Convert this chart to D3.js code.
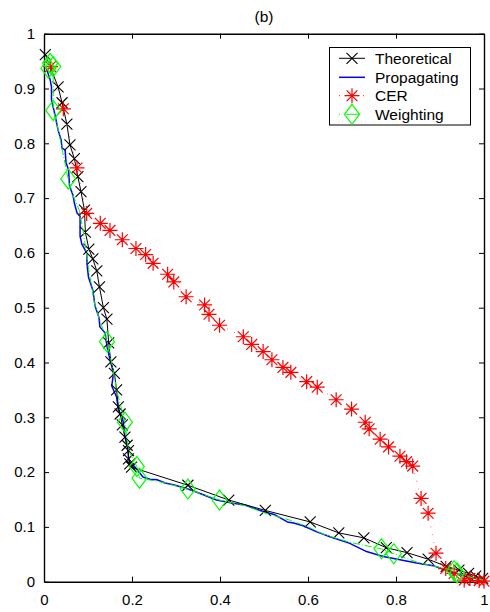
<!DOCTYPE html>
<html>
<head>
<meta charset="utf-8">
<script src="https://cdn.jsdelivr.net/npm/d3@7"></script>
<style>
  body { margin: 0; background: #fff; }
  svg { display: block; }
  text { font-family: "Liberation Sans", Arial, Helvetica, sans-serif; fill: #000; }
</style>
</head>
<body>
<svg id="chart" width="490" height="612"></svg>
<script>
// Axis ticks
const xTicks = [0, 0.2, 0.4, 0.6, 0.8, 1];
const yTicks = [0, 0.1, 0.2, 0.3, 0.4, 0.5, 0.6, 0.7, 0.8, 0.9, 1];
const seriesNames = ["Theoretical", "Propagating", "CER", "Weighting"];

// Theoretical curve
const theoX = [0.003, 0.032, 0.041, 0.052, 0.059, 0.069, 0.077, 0.084, 0.092, 0.094, 0.102, 0.111, 0.120, 0.126, 0.135, 0.143, 0.147, 0.152, 0.160, 0.165, 0.169, 0.173, 0.178, 0.184, 0.189, 0.192, 0.192, 0.195, 0.199, 0.327, 0.420, 0.503, 0.605, 0.670, 0.727, 0.778, 0.825, 0.873, 0.914, 0.943, 0.965, 0.981, 0.997];
const theoY = [0.962, 0.903, 0.874, 0.835, 0.797, 0.772, 0.739, 0.712, 0.678, 0.638, 0.607, 0.589, 0.567, 0.538, 0.500, 0.479, 0.436, 0.401, 0.380, 0.350, 0.319, 0.306, 0.286, 0.264, 0.249, 0.239, 0.224, 0.215, 0.209, 0.176, 0.149, 0.130, 0.109, 0.089, 0.080, 0.062, 0.053, 0.041, 0.028, 0.021, 0.015, 0.010, 0.006];

// Propagating estimate
const propX = [0.005, 0.014, 0.017, 0.017, 0.025, 0.032, 0.039, 0.041, 0.048, 0.050, 0.056, 0.058, 0.066, 0.069, 0.075, 0.082, 0.082, 0.086, 0.097, 0.098, 0.101, 0.111, 0.116, 0.125, 0.127, 0.139, 0.143, 0.150, 0.158, 0.154, 0.165, 0.169, 0.177, 0.180, 0.184, 0.189, 0.192, 0.195, 0.207, 0.225, 0.241, 0.257, 0.275, 0.294, 0.324, 0.355, 0.392, 0.430, 0.457, 0.498, 0.525, 0.553, 0.567, 0.589, 0.620, 0.650, 0.695, 0.733, 0.771, 0.809, 0.847, 0.885, 0.915, 0.938, 0.959, 0.982, 0.995];
const propY = [0.938, 0.916, 0.903, 0.879, 0.852, 0.824, 0.806, 0.791, 0.788, 0.765, 0.751, 0.722, 0.705, 0.691, 0.673, 0.667, 0.631, 0.616, 0.600, 0.578, 0.556, 0.532, 0.503, 0.482, 0.465, 0.454, 0.430, 0.405, 0.381, 0.357, 0.337, 0.314, 0.301, 0.292, 0.264, 0.249, 0.228, 0.218, 0.209, 0.191, 0.187, 0.186, 0.180, 0.177, 0.170, 0.161, 0.149, 0.143, 0.140, 0.128, 0.122, 0.109, 0.107, 0.102, 0.091, 0.082, 0.070, 0.055, 0.046, 0.040, 0.034, 0.029, 0.021, 0.015, 0.010, 0.006, 0.003];

// CER estimate
const cerX = [0.015, 0.044, 0.075, 0.097, 0.128, 0.150, 0.178, 0.209, 0.231, 0.248, 0.281, 0.295, 0.323, 0.365, 0.375, 0.399, 0.453, 0.472, 0.498, 0.518, 0.543, 0.561, 0.597, 0.621, 0.664, 0.699, 0.730, 0.739, 0.764, 0.783, 0.809, 0.824, 0.838, 0.857, 0.873, 0.891, 0.913, 0.932, 0.955, 0.968, 0.989, 1.000];
const cerY = [0.940, 0.863, 0.755, 0.672, 0.654, 0.641, 0.624, 0.608, 0.597, 0.581, 0.561, 0.547, 0.520, 0.505, 0.488, 0.468, 0.447, 0.433, 0.420, 0.405, 0.391, 0.382, 0.365, 0.355, 0.332, 0.315, 0.291, 0.279, 0.260, 0.246, 0.229, 0.219, 0.211, 0.152, 0.125, 0.052, 0.024, 0.015, 0.003, 0.006, 0.002, 0.001];

// Weighting estimate: curve and marked samples
const wLineX = [0.009, 0.014, 0.010, 0.021, 0.021, 0.032, 0.041, 0.055, 0.066, 0.080, 0.089, 0.101, 0.116, 0.130, 0.143, 0.155, 0.165, 0.184, 0.192, 0.211, 0.217, 0.265, 0.327, 0.399, 0.460, 0.503, 0.560, 0.600, 0.640, 0.700, 0.767, 0.795, 0.850, 0.900, 0.932, 0.939, 0.970, 0.998];
const wLineY = [0.950, 0.946, 0.937, 0.940, 0.860, 0.826, 0.790, 0.735, 0.705, 0.678, 0.640, 0.573, 0.503, 0.470, 0.438, 0.395, 0.350, 0.291, 0.240, 0.210, 0.189, 0.182, 0.169, 0.149, 0.138, 0.125, 0.112, 0.100, 0.085, 0.071, 0.060, 0.051, 0.035, 0.026, 0.020, 0.016, 0.008, 0.003];
const wMarkX = [0.010, 0.014, 0.021, 0.021, 0.055, 0.143, 0.184, 0.211, 0.217, 0.327, 0.399, 0.767, 0.795, 0.932, 0.939];
const wMarkY = [0.937, 0.946, 0.940, 0.860, 0.735, 0.438, 0.291, 0.210, 0.189, 0.169, 0.149, 0.060, 0.051, 0.020, 0.016];

const svg = d3.select("#chart");
svg.append("rect").attr("width", 490).attr("height", 612).attr("fill", "#fff");

const plotL = 44, plotR = 484, plotT = 33.7, plotB = 581.7;
const x = d3.scaleLinear().domain([0, 1]).range([plotL, plotR]);
const y = d3.scaleLinear().domain([0, 1]).range([plotB, plotT]);

// Box axes with inward ticks
const fmt = d => String(d);
const axStroke = 1.4;
function styleAxis(g) {
  g.select(".domain").attr("stroke", "#000").attr("stroke-width", axStroke).attr("fill", "none");
  g.selectAll(".tick line").attr("stroke", "#000").attr("stroke-width", 1);
  g.selectAll(".tick text").attr("font-size", 15).attr("font-family", '"Liberation Sans", Arial, sans-serif').attr("fill", "#000");
}
svg.append("g").attr("transform", `translate(0,${plotB})`)
  .call(d3.axisBottom(x).tickValues(xTicks).tickFormat(fmt).tickSizeInner(-5).tickSizeOuter(0).tickPadding(12.6))
  .call(styleAxis);
svg.append("g").attr("transform", `translate(0,${plotT})`)
  .call(d3.axisTop(x).tickValues(xTicks).tickFormat("").tickSizeInner(-5).tickSizeOuter(0))
  .call(styleAxis);
svg.append("g").attr("transform", `translate(${plotL},0)`)
  .call(d3.axisLeft(y).tickValues(yTicks).tickFormat(fmt).tickSizeInner(-5).tickSizeOuter(0).tickPadding(9))
  .call(styleAxis);
svg.append("g").attr("transform", `translate(${plotR},0)`)
  .call(d3.axisRight(y).tickValues(yTicks).tickFormat("").tickSizeInner(-5).tickSizeOuter(0))
  .call(styleAxis);

// Title
svg.append("text").attr("x", (plotL + plotR) / 2).attr("y", 21.5)
  .attr("text-anchor", "middle").attr("font-size", 15.5).text("(b)");

// Marker path builders (centered at px, py)
function xMark(px, py, r) {
  return `M${px - r},${py - r}L${px + r},${py + r}M${px - r},${py + r}L${px + r},${py - r}`;
}
function starMark(px, py, r) {
  const d = r * 0.72;
  return `M${px - r},${py}L${px + r},${py}M${px},${py - r}L${px},${py + r}` +
         `M${px - d},${py - d}L${px + d},${py + d}M${px - d},${py + d}L${px + d},${py - d}`;
}
function diamondMark(px, py, w, h) {
  return `M${px},${py - h}L${px + w},${py}L${px},${py + h}L${px - w},${py}Z`;
}

const line = d3.line().x(d => x(d[0])).y(d => y(d[1]));
const theo = d3.zip(theoX, theoY);
const prop = d3.zip(propX, propY);
const cer = d3.zip(cerX, cerY);
const wLine = d3.zip(wLineX, wLineY);
const wMark = d3.zip(wMarkX, wMarkY);

const plot = svg.append("g");

// Propagating
plot.append("path").datum(prop).attr("d", line)
  .attr("fill", "none").attr("stroke", "#0000ff").attr("stroke-width", 1.5).attr("stroke-linejoin", "round");

// Theoretical
plot.append("path").datum(theo).attr("d", line)
  .attr("fill", "none").attr("stroke", "#000").attr("stroke-width", 1);
plot.append("path")
  .attr("d", theo.map(d => xMark(x(d[0]), y(d[1]), 5.5)).join(""))
  .attr("fill", "none").attr("stroke", "#000").attr("stroke-width", 1.1);

// CER
plot.append("path").datum(cer).attr("d", line)
  .attr("fill", "none").attr("stroke", "#ff0000").attr("stroke-width", 1).attr("stroke-dasharray", "1,7").attr("opacity", 0.6);
plot.append("path")
  .attr("d", cer.map(d => starMark(x(d[0]), y(d[1]), 7.5)).join(""))
  .attr("fill", "none").attr("stroke", "#ff0000").attr("stroke-width", 1.2);

// Weighting
plot.append("path").datum(wLine).attr("d", line)
  .attr("fill", "none").attr("stroke", "#00ff00").attr("stroke-width", 1).attr("stroke-dasharray", "7,2,1,2");
plot.append("path")
  .attr("d", wMark.map(d => diamondMark(x(d[0]), y(d[1]), 7.5, 10)).join(""))
  .attr("fill", "none").attr("stroke", "#00ff00").attr("stroke-width", 1.2);

// Legend
const lg = svg.append("g");
lg.append("rect").attr("x", 329.5).attr("y", 47.5).attr("width", 141).attr("height", 77.5)
  .attr("fill", "#fff").attr("stroke", "#000").attr("stroke-width", 1);
const rowY = [58.3, 77.3, 95.7, 114.3];
const sx0 = 339, sx1 = 365, sm = 352;
// Theoretical
lg.append("line").attr("x1", sx0).attr("x2", sx1).attr("y1", rowY[0]).attr("y2", rowY[0]).attr("stroke", "#000").attr("stroke-width", 1);
lg.append("path").attr("d", xMark(sm, rowY[0], 5.5)).attr("fill", "none").attr("stroke", "#000").attr("stroke-width", 1.1);
// Propagating
lg.append("line").attr("x1", sx0).attr("x2", sx1).attr("y1", rowY[1]).attr("y2", rowY[1]).attr("stroke", "#0000ff").attr("stroke-width", 1.5);
// CER
lg.append("line").attr("x1", sx0).attr("x2", sx1).attr("y1", rowY[2]).attr("y2", rowY[2]).attr("stroke", "#ff0000").attr("stroke-width", 1).attr("stroke-dasharray", "1,5");
lg.append("path").attr("d", starMark(sm, rowY[2], 7.5)).attr("fill", "none").attr("stroke", "#ff0000").attr("stroke-width", 1.2);
// Weighting
lg.append("line").attr("x1", sx0).attr("x2", sx1).attr("y1", rowY[3]).attr("y2", rowY[3]).attr("stroke", "#00ff00").attr("stroke-width", 1).attr("stroke-dasharray", "1,6,13,0");
lg.append("path").attr("d", diamondMark(sm, rowY[3], 7.5, 10)).attr("fill", "none").attr("stroke", "#00ff00").attr("stroke-width", 1.2);

lg.selectAll("text.lab").data(seriesNames).join("text")
  .attr("class", "lab")
  .attr("x", 375).attr("y", (d, i) => rowY[i]).attr("dy", "0.35em")
  .attr("font-size", 15.5).text(d => d);
</script>
</body>
</html>
